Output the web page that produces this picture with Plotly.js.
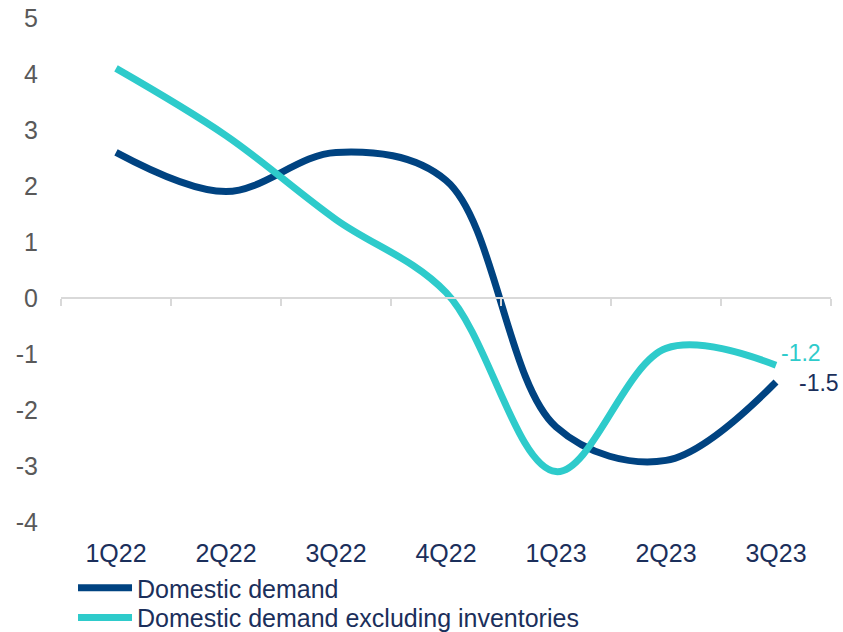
<!DOCTYPE html>
<html>
<head>
<meta charset="utf-8">
<script src="https://cdn.plot.ly/plotly-3.0.1.min.js"></script>
<style>html,body{margin:0;padding:0;background:#fff;}#chart{width:843px;height:632px;}</style>
</head>
<body>
<div id="chart"></div>
<script>
const quarters = ["1Q22","2Q22","3Q22","4Q22","1Q23","2Q23","3Q23"];
const domesticDemand = [2.6, 1.9, 2.6, 2.1, -2.3, -2.9, -1.5];
const domesticExInventories = [4.1, 2.9, 1.4, 0.1, -3.1, -0.9, -1.2];
const seriesNames = ["Domestic demand", "Domestic demand excluding inventories"];
const yTicks = [-4, -3, -2, -1, 0, 1, 2, 3, 4, 5];
const yTickLabels = ["-4", "-3", "-2", "-1", "0", "1", "2", "3", "4", "5"];

const navy = "#004381";
const cyan = "#2ECBCB";
const textNavy = "#1B2F5B";
const grey = "#595959";
const font = "Liberation Sans, Arial, sans-serif";

const traces = [
  {x: quarters, y: domesticDemand, name: seriesNames[0], type: "scatter", mode: "lines", legend: "legend",
   line: {color: navy, width: 7, shape: "spline", smoothing: 1}, hoverinfo: "x+y"},
  {x: quarters, y: domesticExInventories, name: seriesNames[1], type: "scatter", mode: "lines", legend: "legend2",
   line: {color: cyan, width: 7, shape: "spline", smoothing: 1}, hoverinfo: "x+y"},
  {x: quarters, y: domesticDemand, xaxis: "x2", type: "scatter", mode: "lines",
   line: {width: 0}, opacity: 0, showlegend: false, hoverinfo: "skip"}
];

const legendBase = {x: 0.0156, xanchor: "left", yanchor: "middle", orientation: "v",
  font: {family: font, size: 25, color: textNavy}, itemwidth: 54,
  bgcolor: "rgba(0,0,0,0)", borderwidth: 0};

const last = quarters.length - 1;
const layout = {
  width: 843, height: 632,
  margin: {l: 61, r: 12, t: 18, b: 110, autoexpand: false},
  paper_bgcolor: "#fff", plot_bgcolor: "#fff",
  font: {family: font},
  showlegend: true,
  legend: Object.assign({}, legendBase, {y: -0.131}),
  legend2: Object.assign({}, legendBase, {y: -0.19}),
  xaxis: {type: "category", categoryarray: quarters, range: [-0.5, 6.5],
          showgrid: false, zeroline: false, showline: false, ticks: "",
          tickfont: {family: font, size: 25, color: textNavy}, ticklabelstandoff: 14},
  xaxis2: {type: "category", categoryarray: quarters, range: [-0.5, 6.5], overlaying: "x",
           anchor: "free", position: 4/9, showgrid: false, zeroline: false,
           showline: true, linecolor: "#D9D9D9", linewidth: 2,
           ticks: "outside", tickson: "boundaries", ticklen: 7, tickcolor: "#D9D9D9", tickwidth: 1.5,
           showticklabels: false},
  yaxis: {range: [-4, 5], tickvals: yTicks, ticktext: yTickLabels, showgrid: false, zeroline: false, showline: false,
          ticks: "", tickfont: {family: font, size: 25, color: grey}, ticklabelstandoff: 22},
  annotations: [
    {x: quarters[last], y: domesticExInventories[last], text: String(domesticExInventories[last]),
     showarrow: false, xanchor: "left", yanchor: "middle", xshift: 3, yshift: 12,
     font: {family: font, size: 23, color: cyan}},
    {x: quarters[last], y: domesticDemand[last], text: String(domesticDemand[last]),
     showarrow: false, xanchor: "left", yanchor: "middle", xshift: 21, yshift: -1,
     font: {family: font, size: 23, color: textNavy}}
  ]
};

Plotly.newPlot("chart", traces, layout, {displayModeBar: false, staticPlot: true});
</script>
</body>
</html>
